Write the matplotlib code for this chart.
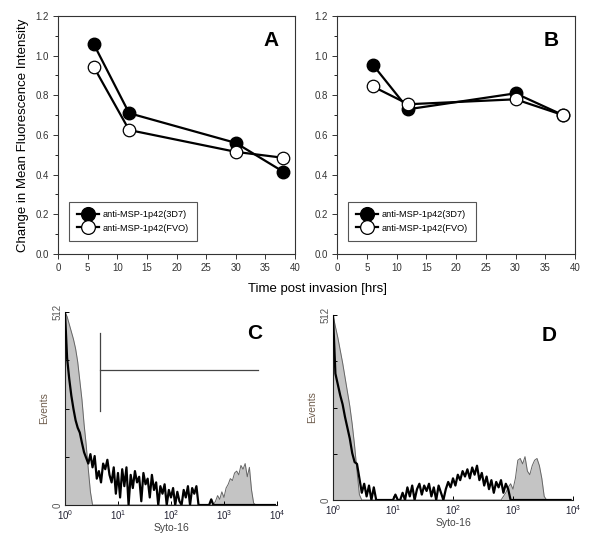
import numpy as np
import matplotlib
matplotlib.use("Agg")
import matplotlib.pyplot as plt
from matplotlib.ticker import MultipleLocator, FixedLocator, NullFormatter

plt.rcParams["font.family"] = ["Liberation Sans", "DejaVu Sans"]

# panels A and B: mean fluorescence intensity vs time
hours = [6, 12, 30, 38]
a_3d7 = [1.06, 0.71, 0.56, 0.415]
a_fvo = [0.945, 0.625, 0.515, 0.485]
b_3d7 = [0.955, 0.73, 0.81, 0.70]
b_fvo = [0.845, 0.755, 0.78, 0.70]
legend_labels = ["anti-MSP-1p42(3D7)", "anti-MSP-1p42(FVO)"]

# panels C and D: flow histograms, 100 channels over 4 log decades (events)
c_black = [512, 390, 335, 290, 255, 225, 205, 192, 165, 140,
           125, 110, 135, 100, 130, 70, 90, 60, 110, 95,
           120, 80, 60, 100, 30, 85, 20, 95, 50, 100,
           0, 80, 45, 90, 60, 75, 10, 85, 55, 70,
           20, 80, 40, 60, 0, 50, 30, 55, 0, 40,
           20, 45, 0, 35, 10, 0, 40, 20, 50, 0,
           45, 30, 50, 0, 0, 0, 0, 0, 0, 15,
           0, 0, 0, 0, 0, 0, 0, 0, 0, 0,
           0, 0, 0, 0, 0, 0, 0, 0, 0, 0,
           0, 0, 0, 0, 0, 0, 0, 0, 0, 0]
c_gray = [512, 500, 480, 460, 440, 415, 380, 330, 280, 215,
          160, 95, 35, 0, 0, 0, 0, 0, 0, 0,
          0, 0, 0, 0, 0, 0, 0, 0, 0, 0,
          0, 0, 0, 0, 0, 0, 0, 0, 0, 0,
          0, 0, 0, 0, 0, 0, 0, 0, 0, 0,
          0, 0, 0, 0, 0, 0, 0, 0, 0, 0,
          0, 0, 0, 0, 0, 0, 0, 0, 0, 0,
          0, 10, 25, 15, 35, 20, 45, 55, 70, 65,
          85, 90, 80, 105, 95, 110, 75, 100, 40, 5,
          0, 0, 0, 0, 0, 0, 0, 0, 0, 0]
d_black = [512, 350, 320, 290, 265, 230, 200, 170, 130, 105,
           100, 60, 20, 45, 10, 40, 0, 35, 0, 0,
           0, 0, 0, 0, 0, 0, 15, 0, 0, 20,
           0, 35, 10, 40, 0, 30, 45, 15, 40, 25,
           45, 10, 35, 0, 40, 20, 0, 30, 50, 35,
           60, 40, 70, 55, 80, 65, 85, 60, 90, 70,
           95, 55, 75, 40, 65, 30, 55, 20, 50, 35,
           55, 20, 45, 30, 0, 0, 0, 0, 0, 0,
           0, 0, 0, 0, 0, 0, 0, 0, 0, 0,
           0, 0, 0, 0, 0, 0, 0, 0, 0, 0]
d_gray = [512, 480, 450, 415, 380, 340, 300, 260, 210, 150,
          80, 15, 0, 0, 0, 0, 0, 0, 0, 0,
          0, 0, 0, 0, 0, 0, 0, 0, 0, 0,
          0, 0, 0, 0, 0, 0, 0, 0, 0, 0,
          0, 0, 0, 0, 0, 0, 0, 0, 0, 0,
          0, 0, 0, 0, 0, 0, 0, 0, 0, 0,
          0, 0, 0, 0, 0, 0, 0, 0, 0, 0,
          0, 10, 20, 35, 45, 30, 60, 110, 115, 100,
          120, 80, 70, 95, 110, 115, 95, 60, 10, 0,
          0, 0, 0, 0, 0, 0, 0, 0, 0, 0]
gate_x = 4.6
gate_end = 4370
gate_y = 358
gate_span = (249, 456)

channels = np.logspace(0, 4, 100, endpoint=False)

fig = plt.figure(figsize=(6, 5.33), dpi=100)
ax_a = fig.add_axes([0.0967, 0.5235, 0.395, 0.4465])
ax_b = fig.add_axes([0.5617, 0.5235, 0.3967, 0.4465])
ax_c = fig.add_axes([0.1083, 0.0525, 0.3533, 0.362])
ax_d = fig.add_axes([0.555, 0.0619, 0.4, 0.347])

spine_col = "#333333"
for ax, s1, s2, letter in [(ax_a, a_3d7, a_fvo, "A"), (ax_b, b_3d7, b_fvo, "B")]:
    ax.plot(hours, s1, "-o", color="black", lw=1.6, ms=9,
            mfc="black", mec="black", label=legend_labels[0], zorder=3)
    ax.plot(hours, s2, "-o", color="black", lw=1.6, ms=9,
            mfc="white", mec="black", mew=0.9, label=legend_labels[1], zorder=3)
    ax.set_xlim(0, 40)
    ax.set_ylim(0, 1.2)
    ax.xaxis.set_major_locator(MultipleLocator(5))
    ax.yaxis.set_major_locator(MultipleLocator(0.2))
    ax.yaxis.set_minor_locator(MultipleLocator(0.1))
    ax.yaxis.set_major_formatter(plt.FormatStrFormatter("%.1f"))
    ax.tick_params(direction="out", length=3.5, width=0.7, labelsize=7,
                   colors=spine_col, pad=3)
    ax.tick_params(which="minor", direction="out", length=2, width=0.6)
    for sp in ax.spines.values():
        sp.set_linewidth(0.8)
        sp.set_color(spine_col)
    ax.text(0.93, 0.935, letter, transform=ax.transAxes, fontsize=15,
            fontweight="bold", ha="right", va="top")
    leg = ax.legend(loc="lower left", bbox_to_anchor=(0.045, 0.055),
                    fontsize=6.6, fancybox=False, framealpha=1,
                    edgecolor="#555555", handlelength=2.4, borderpad=0.9,
                    labelspacing=0.5, handletextpad=0.4, borderaxespad=0,
                    markerscale=1.1)
    leg.get_frame().set_linewidth(0.8)

ax_a.set_ylabel("Change in Mean Fluorescence Intensity", fontsize=9.5, labelpad=5)
fig.text(0.53, 0.458, "Time post invasion [hrs]", fontsize=9.5,
         ha="center", va="center")

for ax, black, gray, letter in [(ax_c, c_black, c_gray, "C"),
                                (ax_d, d_black, d_gray, "D")]:
    ax.fill_between(channels, gray, 0, color="#c4c4c4", lw=0, zorder=1)
    ax.plot(channels, gray, color="#666666", lw=0.7, zorder=2)
    ax.plot(channels, black, color="black", lw=1.6, zorder=3)
    ax.set_xscale("log")
    ax.set_xlim(1, 1e4)
    ax.set_ylim(0, 512)
    ax.spines["top"].set_visible(False)
    ax.spines["right"].set_visible(False)
    for sp in ("left", "bottom"):
        ax.spines[sp].set_color("#222222")
        ax.spines[sp].set_linewidth(0.8)
    ax.yaxis.set_major_locator(FixedLocator([0, 512]))
    ax.yaxis.set_minor_locator(FixedLocator([128, 256, 384]))
    ax.yaxis.set_minor_formatter(NullFormatter())
    ax.xaxis.set_major_locator(FixedLocator([1, 10, 100, 1000, 10000]))
    ax.xaxis.set_minor_locator(FixedLocator([]))
    ax.tick_params(direction="in", length=3, width=0.7, labelsize=7, pad=2)
    ax.tick_params(which="minor", direction="in", length=3, width=0.7)
    ax.tick_params(axis="x", labelcolor="#222233")
    ax.tick_params(axis="y", labelcolor="#555555")
    for lab in ax.get_yticklabels():
        lab.set_rotation(90)
        lab.set_va("center")
    ax.set_ylabel("Events", fontsize=7.5, color="#6e5c4c", labelpad=2)
    ax.set_xlabel("Syto-16", fontsize=7.5, color="#444444", labelpad=1)
    ax.text(0.93, 0.94, letter, transform=ax.transAxes, fontsize=15,
            fontweight="bold", ha="right", va="top")

ax_c.plot([gate_x, gate_x], gate_span, color="#444444", lw=0.9)
ax_c.plot([gate_x, gate_end], [gate_y, gate_y], color="#444444", lw=0.9)

fig.savefig("out.png", dpi=100)
